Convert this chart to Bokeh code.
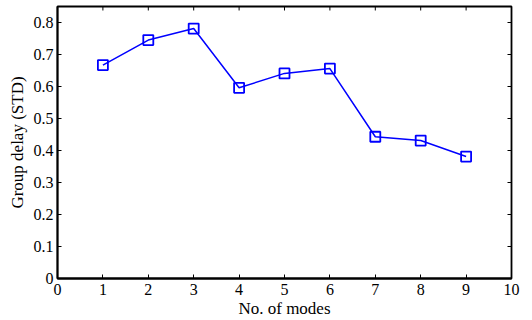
from bokeh.plotting import figure
from bokeh.models import FixedTicker, Range1d
from bokeh.embed import file_html
from bokeh.resources import INLINE

modes = [1, 2, 3, 4, 5, 6, 7, 8, 9]
group_delay_std = [0.667, 0.745, 0.781, 0.596, 0.641, 0.656, 0.443, 0.431, 0.381]
x_ticks = [0, 1, 2, 3, 4, 5, 6, 7, 8, 9, 10]
y_ticks = [0, 0.1, 0.2, 0.3, 0.4, 0.5, 0.6, 0.7, 0.8]
y_labels = ["0", "0.1", "0.2", "0.3", "0.4", "0.5", "0.6", "0.7", "0.8"]
x_min, x_max = 0, 10
y_min, y_max = 0, 0.85

FONT = "Liberation Serif"

p = figure(width=532, height=320, output_backend="svg", toolbar_location=None,
           x_range=Range1d(x_min, x_max), y_range=Range1d(y_min, y_max),
           min_border_left=57, min_border_right=21, min_border_top=6, min_border_bottom=41)
p.xgrid.visible = False
p.ygrid.visible = False
p.outline_line_color = "black"
p.outline_line_width = 1.8
p.background_fill_color = "white"
p.border_fill_color = "white"

# inward ticks on the top and right edges (mirror of the bottom/left ticks)
tick_len_x = (x_max - x_min) * 4 / 454
tick_len_y = (y_max - y_min) * 4 / 273
p.segment(x0=x_ticks, x1=x_ticks, y0=[y_max] * len(x_ticks),
          y1=[y_max - tick_len_y] * len(x_ticks), line_color="black", line_width=1)
p.segment(x0=[x_max] * len(y_ticks), x1=[x_max - tick_len_x] * len(y_ticks),
          y0=y_ticks, y1=y_ticks, line_color="black", line_width=1)

p.line(modes, group_delay_std, line_color="#0000FF", line_width=1.5)
p.scatter(modes, group_delay_std, marker="square", size=10, fill_color=None,
          line_color="#0000FF", line_width=1.8)

def style(ax):
    ax.axis_line_color = "black"
    ax.axis_line_width = 1.8
    ax.major_tick_in = 4
    ax.major_tick_out = 0
    ax.minor_tick_line_color = None
    ax.major_tick_line_color = "black"
    ax.major_label_text_font = FONT
    ax.major_label_text_font_size = "16px"
    ax.major_label_text_color = "black"
    ax.axis_label_text_font = FONT
    ax.axis_label_text_font_size = "17px"
    ax.axis_label_text_font_style = "normal"
    ax.axis_label_text_color = "black"

xa = p.xaxis[0]
xa.ticker = FixedTicker(ticks=x_ticks)
xa.axis_label = "No. of modes"
style(xa)
xa.major_label_standoff = 5
xa.axis_label_standoff = 1

ya = p.yaxis[0]
ya.ticker = FixedTicker(ticks=y_ticks)
ya.major_label_overrides = {t: l for t, l in zip(y_ticks, y_labels)}
ya.axis_label = "Group delay (STD)"
style(ya)
ya.major_label_standoff = 4
ya.axis_label_standoff = 4

open("out.html", "w").write(file_html(p, INLINE))
